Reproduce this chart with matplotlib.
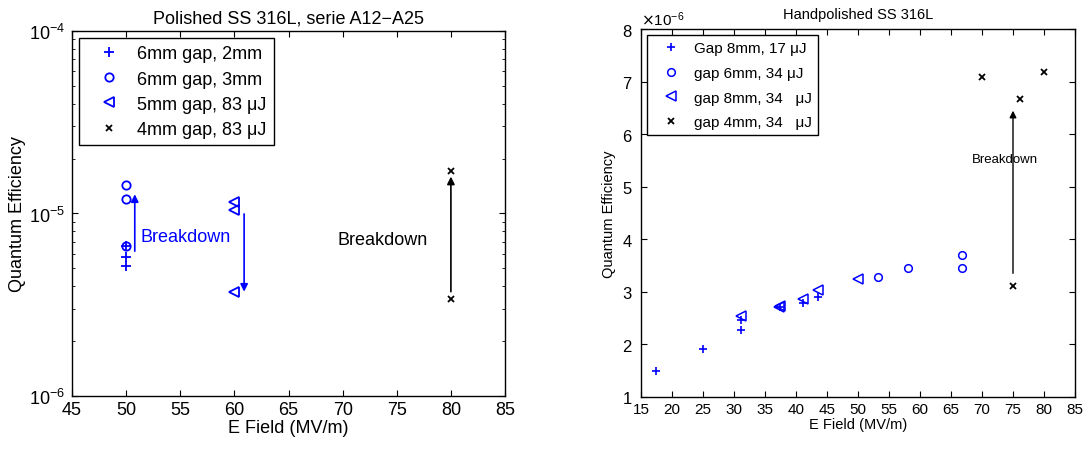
import matplotlib
matplotlib.use("Agg")
import matplotlib.pyplot as plt
import numpy as np
from matplotlib.ticker import ScalarFormatter, LogLocator

plt.rcParams['font.family'] = ['Liberation Sans', 'DejaVu Sans']
plt.rcParams['xtick.direction'] = 'in'
plt.rcParams['ytick.direction'] = 'in'
plt.rcParams['xtick.top'] = True
plt.rcParams['ytick.right'] = True
plt.rcParams['axes.linewidth'] = 1.0

# left panel: polished SS 316L
l_field_2mm = [50, 50, 50]
l_qe_2mm = [6.6e-6, 5.8e-6, 5.15e-6]
l_field_3mm = [50, 50, 50]
l_qe_3mm = [1.43e-5, 1.2e-5, 6.6e-6]
l_field_5mm = [60, 60, 60]
l_qe_5mm = [1.16e-5, 1.04e-5, 3.7e-6]
l_field_4mm = [80, 80]
l_qe_4mm = [1.7e-5, 3.4e-6]
l_labels = ['6mm gap, 2mm', '6mm gap, 3mm', '5mm gap, 83 μJ', '4mm gap, 83 μJ']

# right panel: handpolished SS 316L
r_field_8mm17 = [17.4, 25, 31.1, 31.1, 37.4, 41.1, 43.5]
r_qe_8mm17 = [1.50e-6, 1.92e-6, 2.28e-6, 2.46e-6, 2.71e-6, 2.79e-6, 2.91e-6]
r_field_6mm34 = [53.3, 58, 66.7, 66.7]
r_qe_6mm34 = [3.29e-6, 3.46e-6, 3.71e-6, 3.46e-6]
r_field_8mm34 = [31.1, 37.3, 37.5, 41.1, 43.5, 50]
r_qe_8mm34 = [2.55e-6, 2.72e-6, 2.74e-6, 2.87e-6, 3.03e-6, 3.25e-6]
r_field_4mm34 = [70, 75, 76.2, 80]
r_qe_4mm34 = [7.08e-6, 3.12e-6, 6.66e-6, 7.18e-6]
r_labels = ['Gap 8mm, 17 μJ', 'gap 6mm, 34 μJ', 'gap 8mm, 34   μJ', 'gap 4mm, 34   μJ']

blue = (0, 0, 1)

fig = plt.figure(figsize=(10.84, 4.52), dpi=100)

# ---- left
ax1 = fig.add_axes([0.0664, 0.1217, 0.3995, 0.8075])
ax1.set_yscale('log')
ax1.plot(l_field_2mm, l_qe_2mm, '+', color=blue, ms=7, mew=1.3, label=l_labels[0])
ax1.plot(l_field_3mm, l_qe_3mm, 'o', color=blue, mfc='none', ms=6, mew=1.3, label=l_labels[1])
ax1.plot(l_field_5mm, l_qe_5mm, '<', color=blue, mfc='none', ms=7, mew=1.3, label=l_labels[2])
ax1.plot(l_field_4mm, l_qe_4mm, 'x', color='k', ms=5, mew=1.3, label=l_labels[3])

ax1.annotate('', xy=(50.8, 1.32e-5), xytext=(50.8, 6.0e-6),
             arrowprops=dict(arrowstyle='-|>', color=blue, lw=1.2, mutation_scale=11))
ax1.annotate('', xy=(60.9, 3.6e-6), xytext=(60.9, 1.03e-5),
             arrowprops=dict(arrowstyle='-|>', color=blue, lw=1.2, mutation_scale=11))
ax1.annotate('', xy=(80, 1.65e-5), xytext=(80, 3.6e-6),
             arrowprops=dict(arrowstyle='-|>', color='k', lw=1.2, mutation_scale=11))
ax1.text(51.3, 7.5e-6, 'Breakdown', color=blue, fontsize=13, va='center')
ax1.text(69.5, 7.2e-6, 'Breakdown', color='k', fontsize=13, va='center')

ax1.set_xlim(45, 85)
ax1.set_ylim(1e-6, 1e-4)
ax1.set_xticks(np.arange(45, 86, 5))
ax1.yaxis.set_major_locator(LogLocator(base=10, numticks=5))
ax1.tick_params(labelsize=13, length=4)
ax1.tick_params(axis='y', pad=5)
ax1.tick_params(which='minor', length=2)
ax1.set_xlabel('E Field (MV/m)', fontsize=13, labelpad=1)
ax1.set_ylabel('Quantum Efficiency', fontsize=13, labelpad=2)
ax1.set_title('Polished SS 316L, serie A12−A25', fontsize=13, pad=6)
leg1 = ax1.legend(loc='upper left', fontsize=13, numpoints=1, handlelength=2.5,
                  fancybox=False, edgecolor='k', framealpha=1, borderaxespad=0.4,
                  labelspacing=0.45, handletextpad=0.3)
leg1.get_frame().set_linewidth(1.0)

# ---- right
ax2 = fig.add_axes([0.5913, 0.1195, 0.4004, 0.814])
ax2.plot(r_field_8mm17, r_qe_8mm17, '+', color=blue, ms=6, mew=1.2, label=r_labels[0])
ax2.plot(r_field_6mm34, r_qe_6mm34, 'o', color=blue, mfc='none', ms=5.5, mew=1.1, label=r_labels[1])
ax2.plot(r_field_8mm34, r_qe_8mm34, '<', color=blue, mfc='none', ms=6.5, mew=1.1, label=r_labels[2])
ax2.plot(r_field_4mm34, r_qe_4mm34, 'x', color='k', ms=4.5, mew=1.3, label=r_labels[3])

ax2.annotate('', xy=(75, 6.5e-6), xytext=(75, 3.3e-6),
             arrowprops=dict(arrowstyle='-|>', color='k', lw=1.0, mutation_scale=10))
ax2.text(68.3, 5.53e-6, 'Breakdown', color='k', fontsize=9.5, va='center')

ax2.set_xlim(15, 85)
ax2.set_ylim(1e-6, 8e-6)
ax2.set_xticks(np.arange(15, 86, 5))
ax2.set_yticks(np.arange(1, 9) * 1e-6)
fmt = ScalarFormatter(useMathText=True)
fmt.set_powerlimits((0, 0))
ax2.yaxis.set_major_formatter(fmt)
ax2.yaxis.get_offset_text().set_fontsize(11)
ax2.tick_params(labelsize=11, length=4)
ax2.tick_params(axis='y', labelsize=12, pad=6)
ax2.set_xlabel('E Field (MV/m)', fontsize=10.5, labelpad=1)
ax2.set_ylabel('Quantum Efficiency', fontsize=10.5, labelpad=4)
ax2.set_title('Handpolished SS 316L', fontsize=10.5, pad=8)
leg2 = ax2.legend(loc='upper left', fontsize=11, numpoints=1, handlelength=2.3,
                  fancybox=False, edgecolor='k', framealpha=1, borderaxespad=0.4,
                  labelspacing=0.7, handletextpad=0.4)
leg2.get_frame().set_linewidth(1.0)

fig.savefig('out.png', dpi=100)
